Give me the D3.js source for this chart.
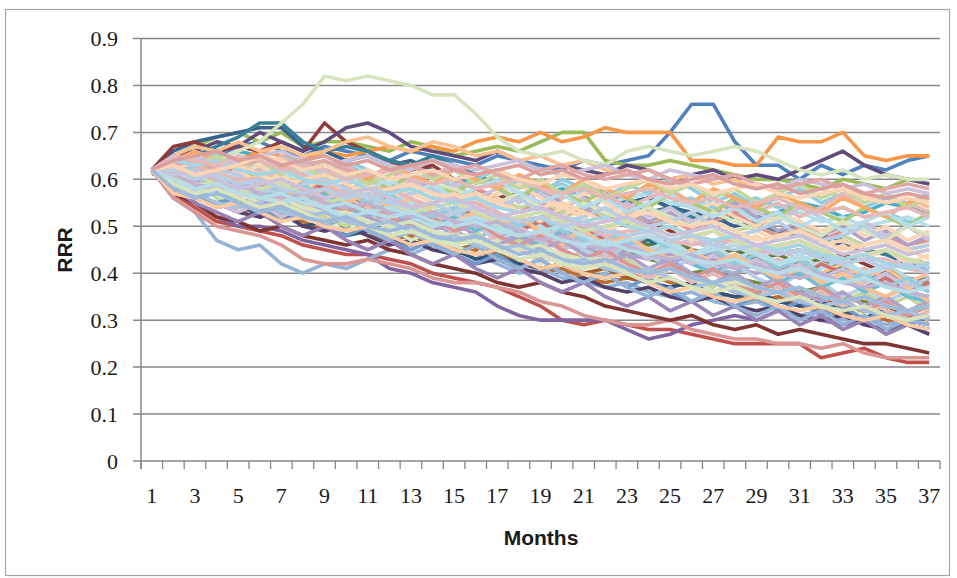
<!DOCTYPE html>
<html>
<head>
<meta charset="utf-8">
<script src="https://cdn.jsdelivr.net/npm/d3@7"></script>
<style>
  body { margin: 0; background: #fff; }
  svg { display: block; }
</style>
</head>
<body>
<svg id="rrr-chart" width="957" height="578"></svg>
<script>
const months = [1,2,3,4,5,6,7,8,9,10,11,12,13,14,15,16,17,18,19,20,21,22,23,24,25,26,27,28,29,30,31,32,33,34,35,36,37];
const xTickLabels = [1,3,5,7,9,11,13,15,17,19,21,23,25,27,29,31,33,35,37];
const yTicks = [0,0.1,0.2,0.3,0.4,0.5,0.6,0.7,0.8,0.9];

// RRR of every run by month, in hundredths
const rrrRuns = [
  [62,64,66,65,67,68,66,65,67,66, 65,64,66,65,64,63,65,64,63,62, 64,63,64,65,70,76,76,68,63,63, 60,63,61,63,62,64,65],
  [62,57,54,51,50,49,48,46,45,44, 44,43,42,40,39,38,37,35,33,30, 29,30,29,28,28,27,26,25,25,25, 25,22,23,24,22,21,21],
  [62,65,67,69,70,68,70,67,68,68, 67,66,68,67,65,66,67,66,68,70, 70,64,63,63,64,63,62,61,60,60, 59,58,60,59,58,60,59],
  [62,58,55,52,50,50,49,47,46,45, 44,41,40,38,37,36,33,31,30,30, 30,30,28,26,27,29,30,31,30,32, 31,30,29,30,31,30,29],
  [61,63,62,64,66,65,63,64,62,63, 61,62,60,61,59,60,58,59,57,58, 56,57,55,56,54,55,53,54,52,53, 55,54,52,53,55,54,53],
  [62,63,64,65,64,66,65,64,66,65, 66,67,66,67,66,68,69,68,70,68, 69,71,70,70,70,64,64,63,63,69, 68,68,70,65,64,65,65],
  [62,66,68,69,70,71,71,67,66,64, 65,63,64,62,60,61,59,60,58,57, 58,56,55,56,54,53,52,50,51,49, 48,47,46,45,44,42,41],
  [62,67,68,66,67,66,68,66,72,68, 66,64,62,63,60,58,56,57,55,53, 54,52,50,51,49,48,46,47,45,44, 45,43,44,42,40,38,37],
  [62,60,58,60,59,57,58,56,57,55, 54,55,53,52,50,51,49,47,48,46, 45,44,45,43,42,40,41,39,38,37, 36,37,35,34,33,32,30],
  [62,65,66,68,67,70,68,66,68,71, 72,70,67,66,65,64,66,64,62,63, 62,61,63,62,60,61,62,60,61,60, 62,64,66,63,61,60,59],
  [62,63,65,67,69,72,72,68,66,67, 66,64,63,65,63,61,62,60,59,57, 56,57,55,53,54,52,51,52,50,49, 50,48,47,45,44,43,42],
  [62,59,56,55,53,54,52,51,49,50, 48,47,48,46,44,45,43,41,40,41, 39,38,39,40,38,37,36,35,34,35, 33,32,31,32,30,29,28],
  [62,56,53,47,45,46,42,40,42,41, 43,45,44,46,45,44,42,40,41,39, 38,37,38,36,35,36,34,33,34,32, 31,32,30,31,29,30,29],
  [62,56,53,50,49,48,46,43,42,42, 43,42,41,39,38,38,37,36,34,33, 31,30,29,29,30,28,27,26,26,25, 25,24,25,23,22,22,22],
  [62,61,63,61,62,60,61,59,60,58, 59,57,58,56,57,55,56,54,55,53, 54,52,53,51,52,50,51,49,50,48, 49,47,48,46,47,45,46],
  [62,59,60,57,58,55,56,54,55,52, 53,51,52,50,49,50,48,47,48,46, 45,46,44,43,44,42,43,41,40,41, 39,40,38,37,38,36,35],
  [62,64,63,65,64,62,63,61,62,63, 61,62,60,61,62,60,59,60,58,59, 57,58,56,57,55,56,54,55,56,54, 55,53,54,52,53,51,52],
  [62,65,67,66,68,66,67,65,66,68, 69,67,66,68,67,65,66,64,65,63, 64,62,61,62,60,61,59,60,58,59, 57,58,56,57,55,56,54],
  [62,58,57,54,55,52,53,50,51,48, 49,47,46,47,45,43,44,42,41,42, 40,39,40,38,37,38,36,35,36,34, 33,34,32,31,32,30,31],
  [62,57,55,52,51,49,50,48,47,46, 47,45,44,42,41,40,38,37,38,36, 35,33,32,31,30,31,29,28,29,27, 28,27,26,25,25,24,23],
  [62,60,61,59,60,58,59,57,58,56, 55,56,54,53,54,52,50,51,49,50, 48,49,47,46,47,45,44,45,43,44, 42,43,41,40,41,39,38],
  [62,58,56,55,53,52,53,50,49,50, 48,46,47,45,44,42,43,41,40,38, 39,37,36,37,35,34,35,33,32,33, 31,30,31,29,28,29,27],
  [62,61,59,60,58,59,57,58,56,57, 55,56,54,52,53,51,52,50,51,49, 47,48,46,47,45,43,44,42,43,41, 42,40,41,39,40,38,39],
  [62,59,57,58,55,56,54,52,53,51, 50,48,49,47,45,46,44,43,41,42, 40,41,39,38,39,37,38,36,35,36, 34,35,33,32,33,31,30],
  [62,60,62,60,58,59,57,58,56,57, 55,54,55,53,54,52,51,52,50,51, 49,50,48,49,47,48,46,47,45,46, 44,45,43,44,42,43,41],
  [62,61,59,60,57,58,56,57,55,56, 54,55,53,51,52,50,51,49,48,49, 47,48,46,45,46,44,45,43,42,43, 41,42,40,41,39,38,37],
  [62,60,62,64,66,68,72,76,82,81, 82,81,80,78,78,74,69,66,65,66, 64,63,66,67,66,65,66,67,66,64, 62,61,62,60,61,60,60],
  [62,60,58,59,57,58,56,55,56,54, 55,53,54,52,53,51,50,51,49,50, 48,49,47,48,46,47,45,46,44,45, 43,44,42,43,41,42,40],
  [62,63,61,62,64,62,63,61,62,60, 61,59,60,61,59,58,59,57,58,56, 57,55,56,57,55,54,55,53,54,52, 53,51,52,50,51,52,50],
  [62,64,62,60,61,59,60,58,59,57, 58,56,57,55,56,54,55,53,54,52, 53,51,52,50,51,49,50,48,49,47, 48,46,47,45,46,44,45],
  [62,60,57,59,56,53,55,54,51,52, 50,53,51,48,49,47,50,48,45,47, 44,46,43,45,42,44,41,40,42,39, 41,38,40,37,39,36,38],
  [61,64,62,60,63,61,58,60,57,59, 56,58,60,57,55,58,56,53,55,52, 54,51,53,50,52,49,51,53,50,48, 50,47,49,51,48,46,47],
  [62,58,60,56,54,57,53,55,52,50, 53,49,51,48,46,49,45,47,44,42, 45,41,43,40,42,39,37,40,36,38, 35,37,34,36,33,35,32],
  [62,63,60,62,59,61,63,60,58,61, 59,57,60,58,55,57,54,56,58,55, 53,56,54,51,53,50,52,55,52,49, 51,48,50,47,49,46,48],
  [62,65,63,66,64,62,65,63,61,64, 62,60,63,61,58,60,62,59,57,60, 58,56,59,57,60,58,55,57,54,56, 58,55,57,54,56,55,57],
  [62,59,61,58,56,59,57,54,56,53, 55,52,54,51,53,50,48,51,49,46, 48,45,47,44,46,43,45,42,44,41, 43,40,42,39,41,38,40],
  [62,61,58,60,57,55,58,56,53,55, 52,54,51,49,52,50,47,49,46,48, 45,43,46,44,41,43,40,42,39,37, 40,38,35,37,34,36,33],
  [62,64,61,63,60,62,65,62,60,63, 60,62,59,61,63,60,58,61,58,56, 59,57,54,56,58,55,53,56,53,55, 52,54,57,54,52,55,53],
  [62,59,56,54,57,55,52,54,51,49, 52,50,47,49,46,44,47,45,42,44, 41,43,40,38,41,39,36,38,35,37, 34,36,33,31,34,32,30],
  [62,63,65,62,64,61,63,60,62,59, 61,58,60,57,59,56,58,55,57,54, 56,53,55,52,54,51,53,56,53,51, 54,52,49,51,48,50,47],
  [62,60,62,59,61,58,60,57,55,58, 56,53,55,52,54,51,49,52,50,47, 49,46,48,45,47,44,46,43,45,42, 44,41,43,40,42,39,37],
  [62,64,62,59,61,63,60,58,60,62, 59,61,58,56,58,55,57,59,56,54, 57,55,52,54,51,53,55,52,50,53, 51,49,51,48,50,47,49],
  [62,60,57,55,56,54,51,53,50,48, 50,47,45,47,44,42,44,41,43,40, 38,40,37,39,36,34,36,33,35,32, 34,31,33,30,32,29,31],
  [62,61,63,60,62,59,57,60,58,55, 57,54,56,53,51,54,52,49,51,48, 50,47,45,48,46,43,45,42,44,41, 39,42,40,37,39,36,38],
  [62,63,61,64,62,60,63,61,59,62, 60,58,61,59,57,60,58,56,59,57, 55,58,56,54,57,55,53,56,54,52, 55,53,51,54,52,50,53],
  [62,58,55,53,51,53,50,48,50,47, 45,47,44,42,44,41,39,41,38,36, 38,35,33,35,32,34,31,33,30,32, 29,31,28,30,27,29,28],
  [62,60,58,61,59,56,58,55,57,54, 52,55,53,50,52,49,51,48,46,49, 47,44,46,43,45,42,40,43,41,38, 40,37,39,36,38,35,34],
  [62,64,66,64,62,65,63,61,64,62, 60,63,61,59,62,60,58,61,59,57, 60,58,56,59,57,55,58,56,54,57, 55,53,56,54,52,55,56],
  [62,61,59,62,60,57,59,56,58,55, 53,56,54,51,53,50,52,49,47,50, 48,45,47,44,46,43,41,44,42,39, 41,38,40,37,35,38,36],
  [62,59,57,59,56,54,56,53,55,52, 50,52,49,47,49,46,48,45,43,45, 42,44,41,39,41,38,40,37,35,37, 34,36,33,35,32,30,32],
  [62,57,56,58,57,59,58,60,59,57, 58,56,57,59,58,56,55,57,54,52, 55,53,51,54,52,50,53,51,49,52, 50,48,51,49,47,50,48],
  [62,60,57,55,53,55,52,54,51,53, 50,52,54,51,49,51,48,50,47,45, 47,44,46,43,45,42,44,41,43,40, 42,39,41,38,40,37,39],
  [62,63,61,59,61,58,60,62,59,61, 58,60,57,59,56,58,60,57,55,57, 54,56,53,55,57,54,52,54,51,53, 50,52,49,51,53,50,52],
  [62,64,62,60,62,59,61,58,60,57, 59,56,58,55,57,54,56,53,51,54, 52,49,51,48,50,47,49,46,48,45, 47,44,46,43,45,42,44],
  [62,59,56,58,55,53,55,52,50,52, 49,47,49,46,44,46,43,41,43,40, 38,40,37,35,37,34,36,33,31,33, 30,32,29,31,28,30,29],
  [62,60,62,59,57,59,56,58,55,53, 55,52,50,52,49,51,48,46,48,45, 43,45,42,40,42,39,41,38,36,38, 35,37,34,32,34,31,33],
  [62,64,63,65,62,64,61,63,60,62, 59,61,63,60,62,59,61,58,60,57, 59,56,58,60,57,59,56,58,55,57, 59,56,58,55,57,54,56],
  [62,58,60,57,59,56,54,56,53,55, 52,50,52,49,51,48,46,48,45,47, 44,42,44,41,43,40,38,40,37,39, 36,34,36,33,35,32,34],
  [62,61,63,60,58,60,57,59,56,58, 55,57,54,52,54,51,53,50,52,49, 47,49,46,48,45,43,45,42,44,41, 43,40,38,40,37,39,36],
  [62,63,60,62,59,61,58,56,58,55, 57,54,56,53,51,53,50,52,49,47, 49,46,48,45,43,45,42,44,41,39, 41,38,40,37,35,37,34],
  [62,61,60,62,61,58,57,59,60,58, 56,55,57,58,55,53,54,56,53,51, 52,54,51,50,51,53,50,48,49,51, 48,47,48,50,47,45,46],
  [62,63,63,61,60,60,62,61,59,57, 58,58,56,54,55,55,53,51,52,52, 50,48,49,49,47,46,47,47,45,44, 45,44,42,43,43,41,40],
  [62,60,59,59,57,56,56,54,53,53, 51,50,51,49,48,48,46,45,46,44, 43,43,41,40,41,39,38,38,37,36, 37,35,34,35,33,32,33],
  [62,64,65,63,64,65,66,64,63,64, 65,63,62,64,63,62,63,64,62,61, 62,63,61,60,62,61,60,61,59,58, 60,59,58,59,57,58,57],
  [62,59,58,57,58,56,55,56,54,52, 53,54,52,50,51,52,50,48,49,50, 48,46,47,48,46,44,45,46,44,42, 43,44,42,40,41,42,40],
  [62,62,64,62,63,61,59,60,61,59, 57,58,59,57,56,57,55,53,54,55, 53,51,52,53,51,50,51,49,47,48, 49,47,45,46,47,45,43],
  [62,58,57,55,54,55,53,52,53,51, 50,51,49,47,48,46,45,46,44,42, 43,41,40,41,39,37,38,36,35,36, 34,33,34,32,31,32,30],
  [62,63,64,62,63,64,62,63,64,62, 61,62,63,61,62,63,61,60,62,63, 61,60,61,62,60,59,60,61,59,58, 59,60,58,57,58,59,58],
  [62,60,61,59,57,58,59,57,55,56, 57,55,53,54,55,53,51,52,53,51, 49,50,51,49,47,48,49,47,45,46, 47,45,43,44,45,43,42],
  [62,61,59,58,59,57,56,57,55,54, 55,53,52,53,51,50,51,49,47,48, 46,45,46,44,43,44,42,41,42,40, 39,40,38,37,38,36,35],
  [62,64,63,64,62,61,62,60,59,60, 58,57,58,56,55,56,54,53,54,52, 51,52,50,49,50,48,47,48,46,45, 46,44,43,44,42,41,42],
  [62,57,56,54,55,53,51,52,50,49, 50,48,46,47,45,44,45,43,41,42, 40,39,40,38,36,37,35,34,35,33, 32,33,31,30,31,29,28],
  [62,62,60,61,59,60,58,57,58,56, 57,55,54,55,53,54,52,51,52,50, 51,49,48,49,47,48,46,45,46,44, 45,43,42,43,41,42,40],
  [62,65,64,63,65,64,62,63,62,60, 61,62,60,59,60,58,59,60,58,57, 58,56,57,58,56,55,56,54,55,56, 54,53,54,52,53,54,52],
  [62,59,57,58,56,54,55,53,51,52, 50,48,49,47,46,47,45,43,44,42, 41,42,40,38,39,37,36,37,35,34, 35,33,32,33,31,30,31],
  [62,61,62,60,58,59,60,58,56,57, 58,56,54,55,56,54,52,53,54,52, 50,51,52,50,48,49,50,48,46,47, 48,46,44,45,46,44,45],
  [62,60,58,59,57,56,57,55,54,55, 53,52,53,51,50,51,49,48,49,47, 46,47,45,44,45,43,42,43,41,40, 41,39,38,39,37,36,37],
  [62,63,61,62,63,65,64,62,63,61, 62,60,61,62,60,61,62,60,59,61, 60,58,59,60,58,59,57,58,59,57, 56,57,58,56,55,56,55],
  [62,58,56,57,55,53,54,52,51,52, 50,49,50,48,47,48,46,44,45,43, 42,43,41,40,41,39,38,39,37,36, 37,35,34,35,33,32,33],
  [62,64,65,66,64,65,63,64,65,63, 64,62,63,64,62,61,62,63,61,62, 60,61,62,60,59,60,61,59,58,59, 57,58,59,57,56,57,56]
];

// Office 2007 accent colours, then darker / lighter variants per round
const accents = ["#4F81BD", "#C0504D", "#9BBB59", "#8064A2", "#4BACC6", "#F79646"];
const shadeSteps = [0, -0.25, 0.4, -0.35, 0.6, 0.4, 0.6, 0.2, 0.6, 0.4, 0.6, 0.5, 0.6, 0.45];

function runColor(i) {
    const c = d3.rgb(accents[i % 6]);
    const t = shadeSteps[Math.floor(i / 6) % shadeSteps.length];
    if (t >= 0) {
        return d3.rgb(c.r + (255 - c.r) * t, c.g + (255 - c.g) * t, c.b + (255 - c.b) * t).formatHex();
    }
    return d3.rgb(c.r * (1 + t), c.g * (1 + t), c.b * (1 + t)).formatHex();
}

const svg = d3.select("#rrr-chart");
const plotLeft = 141, plotRight = 940, plotTop = 38.5, plotBottom = 461;
const axisGrey = "#878787";

svg.append("rect")
    .attr("width", 957).attr("height", 578).attr("fill", "#fff");

// outer chart border
svg.append("rect")
    .attr("x", 5.5).attr("y", 9.5)
    .attr("width", 944).attr("height", 566)
    .attr("fill", "none")
    .attr("stroke", "#a6a6a6")
    .attr("stroke-width", 1.2);

var x = d3.scaleBand()
    .domain(months)
    .range([plotLeft, plotRight]);

var y = d3.scaleLinear()
    .domain([0, 0.9])
    .range([plotBottom, plotTop]);

//Horizontal gridlines
svg.append("g")
    .selectAll("line")
    .data(yTicks)
    .enter().append("line")
    .attr("x1", plotLeft - 8)
    .attr("x2", plotRight)
    .attr("y1", d => y(d))
    .attr("y2", d => y(d))
    .attr("stroke", axisGrey)
    .attr("stroke-width", 1.5);

//Y axis labels
svg.append("g")
    .selectAll("text")
    .data(yTicks)
    .enter().append("text")
    .attr("x", 118)
    .attr("y", d => y(d) + 7.5)
    .attr("text-anchor", "end")
    .attr("font-family", "Liberation Serif, serif")
    .attr("font-size", 22)
    .attr("fill", "#1a1a1a")
    .text(d => d === 0 ? "0" : d3.format(".1f")(d));

//Vertical axis line
svg.append("line")
    .attr("x1", plotLeft).attr("x2", plotLeft)
    .attr("y1", plotTop).attr("y2", plotBottom + 8)
    .attr("stroke", axisGrey)
    .attr("stroke-width", 1.5);

//X axis ticks sit on the band edges
const edges = months.map(m => x(m)).concat([plotRight]);
svg.append("g")
    .selectAll("line")
    .data(edges)
    .enter().append("line")
    .attr("x1", d => d).attr("x2", d => d)
    .attr("y1", plotBottom).attr("y2", plotBottom + 8)
    .attr("stroke", axisGrey)
    .attr("stroke-width", 1.3);

svg.append("g")
    .selectAll("text")
    .data(xTickLabels)
    .enter().append("text")
    .attr("x", d => x(d) + x.bandwidth() / 2)
    .attr("y", 503)
    .attr("text-anchor", "middle")
    .attr("font-family", "Liberation Serif, serif")
    .attr("font-size", 22)
    .attr("fill", "#1a1a1a")
    .text(d => d);

//Runs
const line = d3.line()
    .x((d, i) => x(months[i]) + x.bandwidth() / 2)
    .y(d => y(d / 100));

svg.append("g")
    .selectAll("path")
    .data(rrrRuns)
    .enter().append("path")
    .attr("d", d => line(d))
    .attr("fill", "none")
    .attr("stroke", (d, i) => runColor(i))
    .attr("stroke-width", 3.6)
    .attr("stroke-linejoin", "round");

//Axis titles
svg.append("text")
    .attr("transform", "translate(72,250)rotate(-90)")
    .attr("text-anchor", "middle")
    .attr("font-family", "Liberation Sans, Arial, sans-serif")
    .attr("font-weight", "bold")
    .attr("font-size", 21)
    .attr("fill", "#1a1a1a")
    .text("RRR");

svg.append("text")
    .attr("x", 541)
    .attr("y", 545)
    .attr("text-anchor", "middle")
    .attr("font-family", "Liberation Sans, Arial, sans-serif")
    .attr("font-weight", "bold")
    .attr("font-size", 21)
    .attr("fill", "#1a1a1a")
    .text("Months");
</script>
</body>
</html>
